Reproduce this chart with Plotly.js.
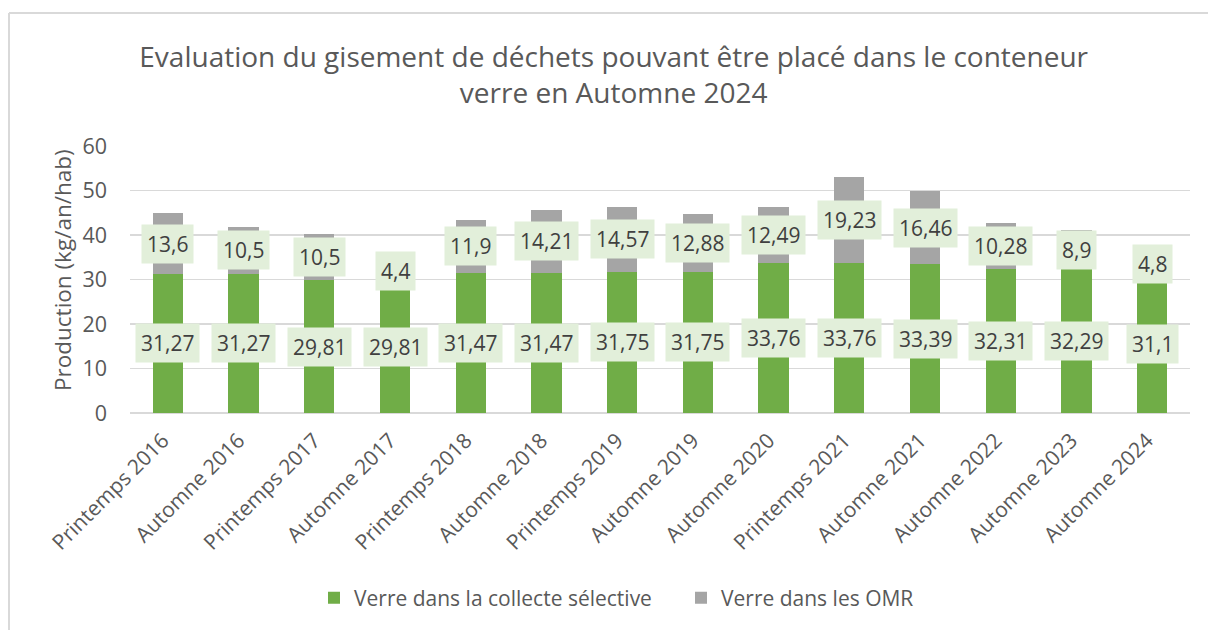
<!DOCTYPE html>
<html>
<head>
<meta charset="utf-8">
<script src="https://cdn.plot.ly/plotly-3.0.1.min.js"></script>
<style>
  html, body { margin: 0; padding: 0; background: #ffffff; }
  #chart { width: 1208px; height: 630px; }
</style>
</head>
<body>
<div id="chart"></div>
<script>
// ---- Data ----
const categories = ["Printemps 2016", "Automne 2016", "Printemps 2017", "Automne 2017",
  "Printemps 2018", "Automne 2018", "Printemps 2019", "Automne 2019", "Automne 2020",
  "Printemps 2021", "Automne 2021", "Automne 2022", "Automne 2023", "Automne 2024"];
// bar heights as drawn
const greenBars = [31.27, 31.27, 29.81, 27.7, 31.47, 31.47, 31.75, 31.75, 33.76, 33.76, 33.39, 32.31, 32.29, 29.3];
// data label values as printed
const greenLabels = [31.27, 31.27, 29.81, 29.81, 31.47, 31.47, 31.75, 31.75, 33.76, 33.76, 33.39, 32.31, 32.29, 31.1];
const grayValues = [13.6, 10.5, 10.5, 4.4, 11.9, 14.21, 14.57, 12.88, 12.49, 19.23, 16.46, 10.28, 8.9, 4.8];
const yTicks = [0, 10, 20, 30, 40, 50, 60];

const seriesNames = ["Verre dans la collecte sélective", "Verre dans les OMR"];
const colors = ["#70AD47", "#A5A5A5"];

const FONT = "Open Sans, Liberation Sans, sans-serif";
const fmt = v => String(v).replace(".", ",");

const traces = [
  { type: "bar", name: seriesNames[0], x: categories, y: greenBars,
    marker: { color: colors[0] }, hoverinfo: "x+y" },
  { type: "bar", name: seriesNames[1], x: categories, y: grayValues,
    marker: { color: colors[1] }, hoverinfo: "x+y" }
];

// plot area: x 130..1190, y 146..413
const L = 130, R = 18, T = 146, B = 217;
const pw = 1208 - L - R, ph = 630 - T - B;
const px = v => (v - L) / pw;
const py = v => (630 - B - v) / ph;

const annotations = [];
categories.forEach((c, i) => {
  annotations.push({
    x: c, y: greenLabels[i] / 2, xref: "x", yref: "y",
    text: fmt(greenLabels[i]), showarrow: false,
    bgcolor: "#E2EFDA", borderpad: 5,
    font: { family: FONT, size: 21, color: "#404040" }
  });
  annotations.push({
    x: c, y: greenLabels[i] + grayValues[i] / 2, xref: "x", yref: "y",
    text: fmt(grayValues[i]), showarrow: false,
    bgcolor: "#E2EFDA", borderpad: 5,
    font: { family: FONT, size: 21, color: "#404040" }
  });
});
// y-axis title
annotations.push({
  text: "Production (kg/an/hab)", xref: "paper", yref: "paper",
  x: px(62), y: py(270), xanchor: "center", yanchor: "middle",
  textangle: -90, showarrow: false,
  font: { family: FONT, size: 22.5, color: "#595959" }
});

const layout = {
  width: 1208, height: 630,
  margin: { l: L, r: R, t: T, b: B, pad: 0 },
  paper_bgcolor: "#ffffff", plot_bgcolor: "#ffffff",
  barmode: "stack", bargap: 0.6,
  font: { family: FONT, color: "#595959" },
  title: {
    text: "Evaluation du gisement de déchets pouvant être placé dans le conteneur<br>verre en Automne 2024",
    font: { family: FONT, size: 28, color: "#595959" },
    x: 0.508, xref: "container", xanchor: "center",
    y: 1 - 67 / 630, yref: "container", yanchor: "middle"
  },
  xaxis: {
    type: "category", tickangle: -45,
    tickfont: { family: FONT, size: 21, color: "#595959" },
    showgrid: false, showline: false, ticks: "", zeroline: false,
    ticklabelstandoff: 10, ticklabelshift: -5
  },
  yaxis: {
    range: [0, 60], tickvals: yTicks, ticktext: yTicks.map(String),
    tickfont: { family: FONT, size: 21.5, color: "#595959" },
    gridcolor: "#D9D9D9", gridwidth: 1.3, zeroline: true, zerolinecolor: "#D9D9D9", zerolinewidth: 1.3,
    showline: false, ticks: "", ticklabelstandoff: 22
  },
  legend: {
    orientation: "h", x: px(314), xanchor: "left", y: py(598), yanchor: "middle",
    font: { family: FONT, size: 21, color: "#595959" },
    entrywidth: 322, entrywidthmode: "pixels",
    traceorder: "normal", itemclick: false, itemdoubleclick: false
  },
  annotations: annotations,
  shapes: [
    { type: "line", xref: "paper", yref: "paper", x0: px(9), x1: px(1210), y0: py(13), y1: py(13),
      line: { color: "#D9D9D9", width: 2 } },
    { type: "line", xref: "paper", yref: "paper", x0: px(9), x1: px(9), y0: py(13), y1: py(632),
      line: { color: "#D9D9D9", width: 2 } }
  ],
  showlegend: true
};

Plotly.newPlot("chart", traces, layout, { staticPlot: true, displayModeBar: false });
</script>
</body>
</html>
